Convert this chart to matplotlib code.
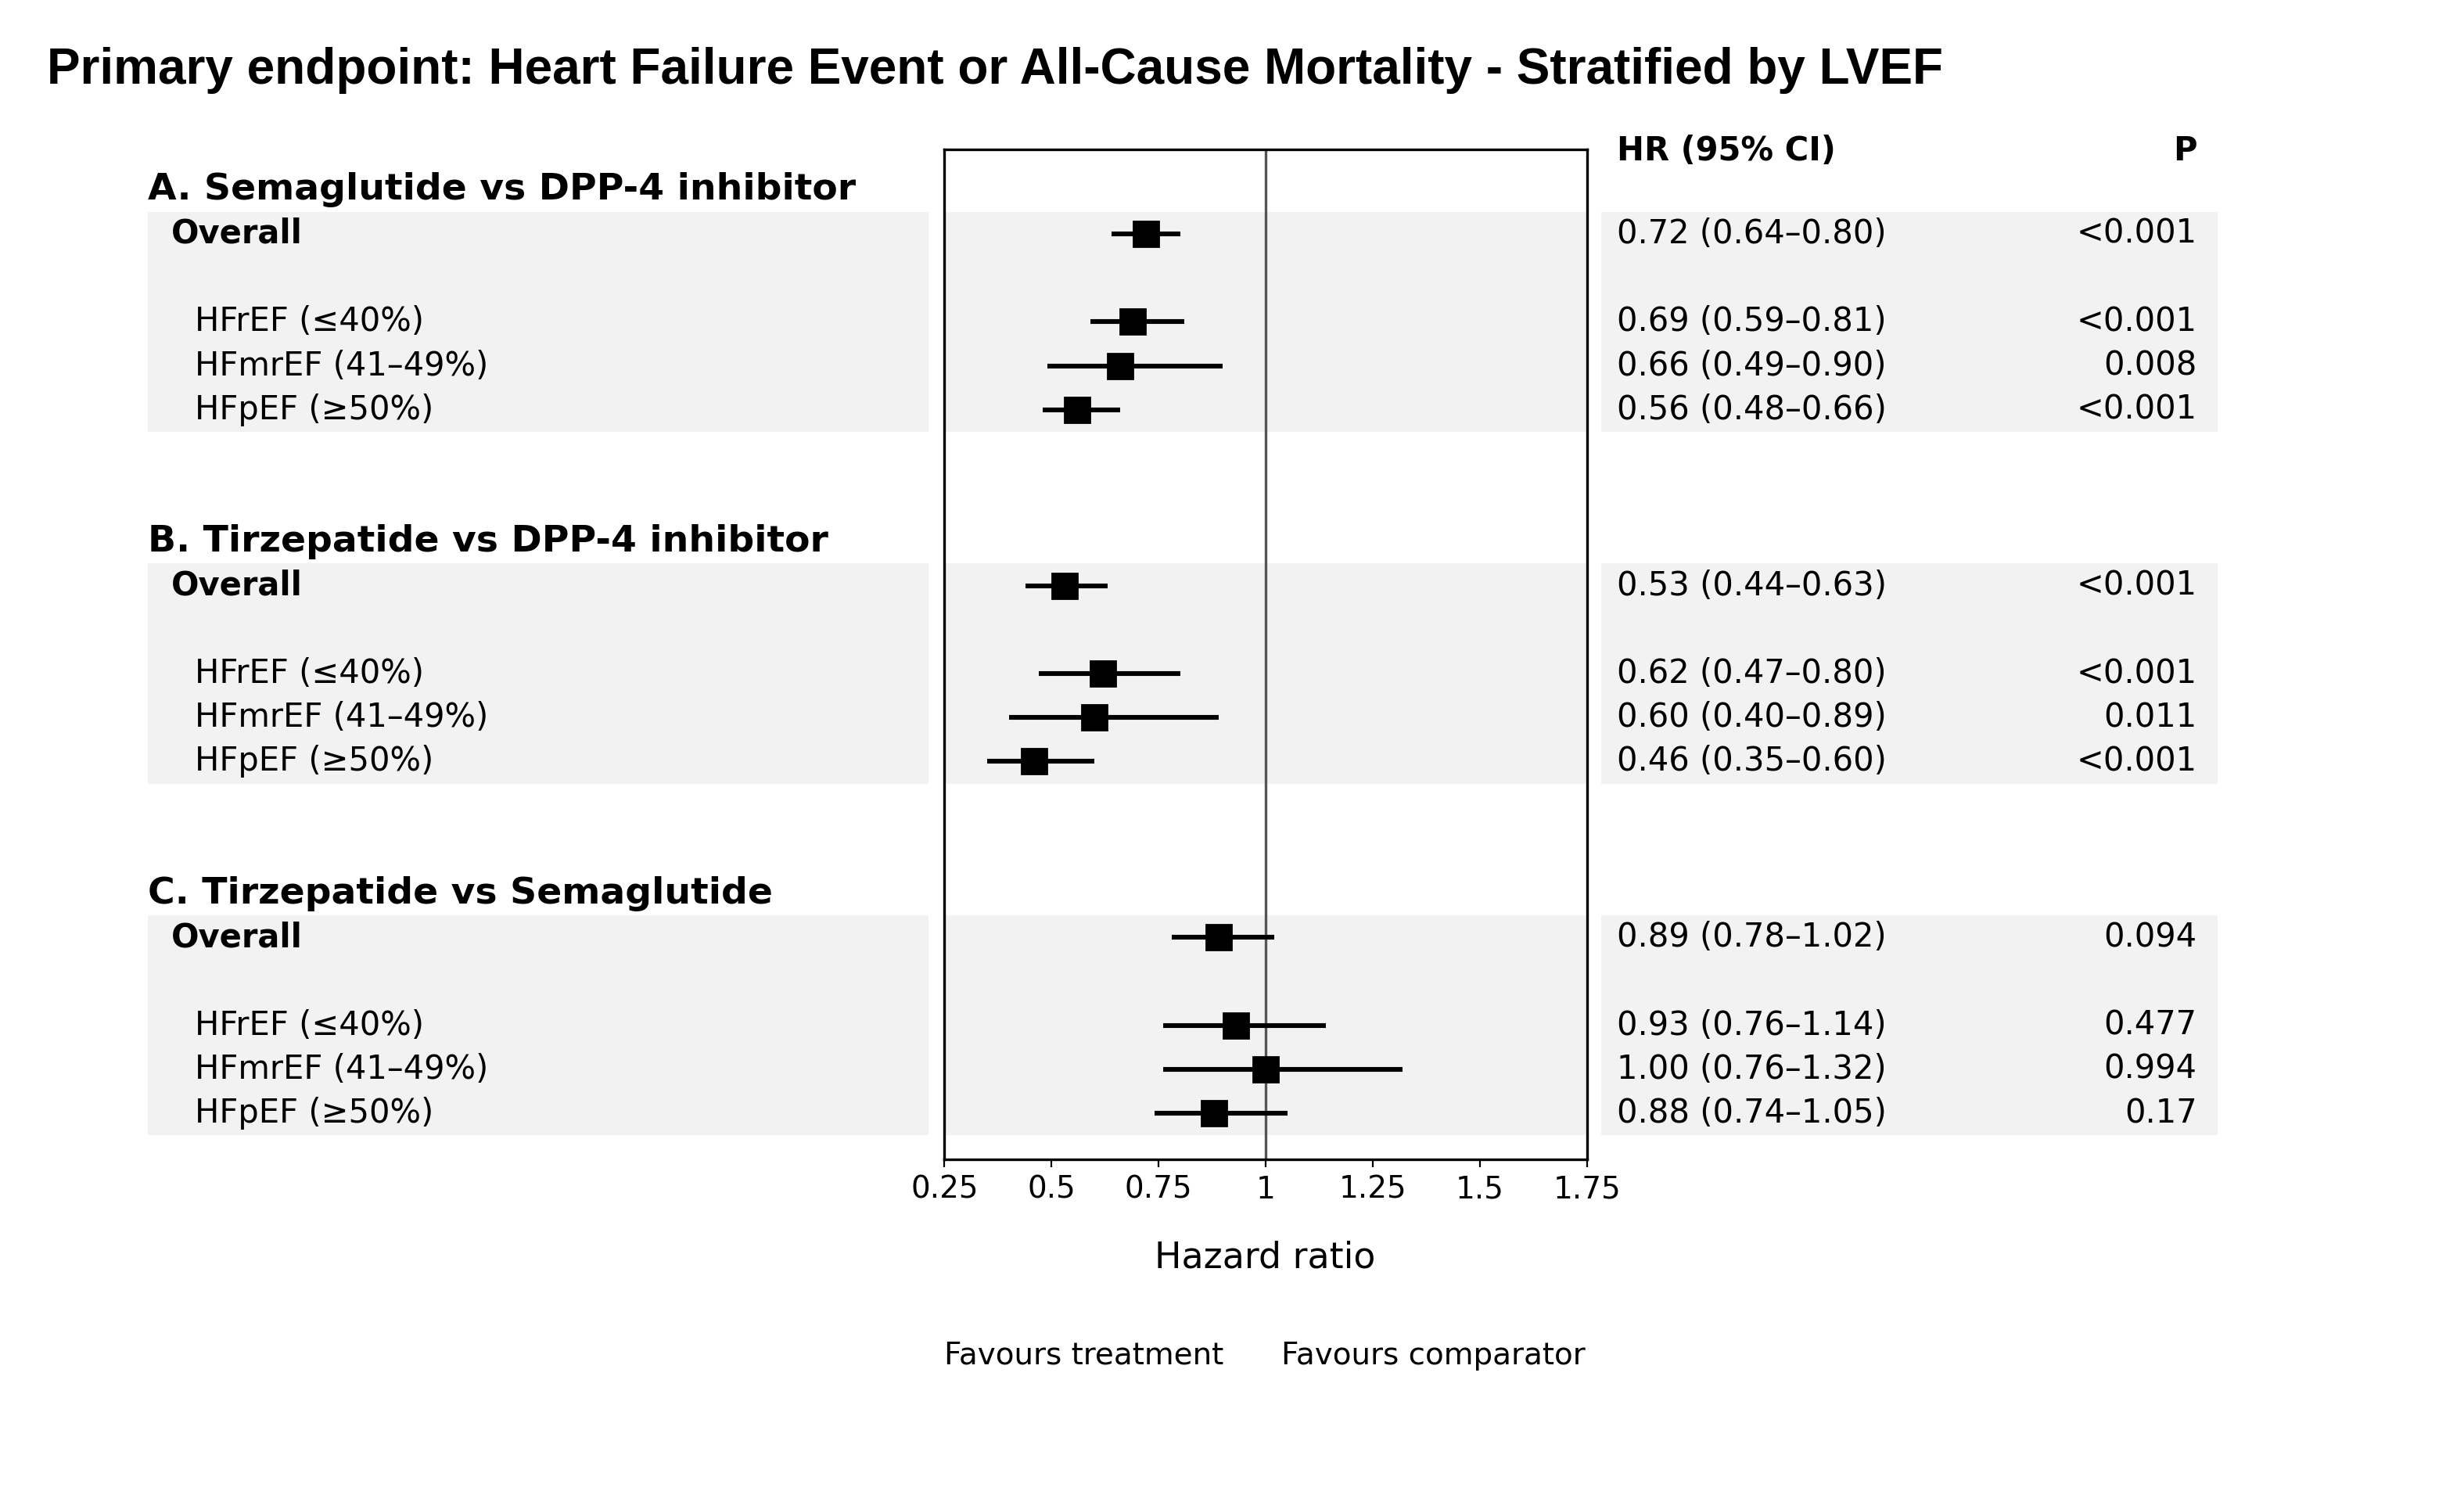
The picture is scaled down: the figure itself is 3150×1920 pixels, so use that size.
import matplotlib
matplotlib.use("Agg")
import matplotlib.pyplot as plt
from matplotlib.patches import Rectangle

title = "Primary endpoint: Heart Failure Event or All-Cause Mortality - Stratified by LVEF"
groups = ["A. Semaglutide vs DPP-4 inhibitor", "B. Tirzepatide vs DPP-4 inhibitor", "C. Tirzepatide vs Semaglutide"]
subgroups = ["Overall", "HFrEF (≤40%)", "HFmrEF (41–49%)", "HFpEF (≥50%)"]
hr = [[0.72, 0.69, 0.66, 0.56], [0.53, 0.62, 0.60, 0.46], [0.89, 0.93, 1.00, 0.88]]
lo = [[0.64, 0.59, 0.49, 0.48], [0.44, 0.47, 0.40, 0.35], [0.78, 0.76, 0.76, 0.74]]
hi = [[0.80, 0.81, 0.90, 0.66], [0.63, 0.80, 0.89, 0.60], [1.02, 1.14, 1.32, 1.05]]
pvals = [["<0.001", "<0.001", "0.008", "<0.001"], ["<0.001", "<0.001", "0.011", "<0.001"],
         ["0.094", "0.477", "0.994", "0.17"]]
xticks = [0.25, 0.5, 0.75, 1, 1.25, 1.5, 1.75]
xticklabels = ["0.25", "0.5", "0.75", "1", "1.25", "1.5", "1.75"]

W, H = 1568, 965
fig = plt.figure(figsize=(15.75, 9.6), dpi=200)
bg = fig.add_axes([0, 0, 1, 1])
bg.set_xlim(0, W); bg.set_ylim(H, 0); bg.axis("off")

ax_l, ax_r, ax_t, ax_b = 601, 1010, 96, 745
ax = fig.add_axes([ax_l / W, 1 - ax_b / H, (ax_r - ax_l) / W, (ax_b - ax_t) / H])
ax.patch.set_alpha(0)

row_h = 28.25
def ypix(r):
    return 122 + r * row_h

offsets = [0, 8, 16]
sub_rows = [1, 3, 4, 5]
fs = 15
for g in range(3):
    base = offsets[g]
    top = ypix(base + 0.5); bot = ypix(base + 5.5)
    for x0, x1 in [(94, 591), (601, 1010), (1019, 1411)]:
        bg.add_patch(Rectangle((x0, top), x1 - x0, bot - top, color="#f2f2f2", lw=0, zorder=0))
    bg.text(94, ypix(base), groups[g], fontsize=17, fontweight="bold", va="center", ha="left")
    for i, s in enumerate(subgroups):
        y = ypix(base + sub_rows[i])
        if i == 0:
            bg.text(109, y, s, fontsize=fs, fontweight="bold", va="center")
        else:
            bg.text(124, y, s, fontsize=fs, va="center")
        bg.text(1029, y, f"{hr[g][i]:.2f} ({lo[g][i]:.2f}–{hi[g][i]:.2f})", fontsize=fs, va="center")
        bg.text(1398, y, pvals[g][i], fontsize=fs, va="center", ha="right")
        ax.plot([lo[g][i], hi[g][i]], [y, y], color="black", lw=2.2, solid_capstyle="butt")
        ax.plot(hr[g][i], y, marker="s", color="black", ms=11.5)

bg.text(1029, 97, "HR (95% CI)", fontsize=fs, fontweight="bold", va="center")
bg.text(1398, 97, "P", fontsize=fs, fontweight="bold", va="center", ha="right")
bg.text(30, 45, title, fontsize=23, fontweight="bold", family="Liberation Sans", va="center")
bg.text(805, 808, "Hazard ratio", fontsize=16.5, ha="center", va="center")
bg.text(601, 871, "Favours treatment", fontsize=14, ha="left", va="center")
bg.text(1009, 871, "Favours comparator", fontsize=14, ha="right", va="center")

ax.axvline(1, color="#555555", lw=1.2, zorder=0)
ax.set_xlim(0.25, 1.75)
ax.set_ylim(ax_b, ax_t)
ax.set_yticks([])
ax.set_xticks(xticks)
ax.set_xticklabels(xticklabels, fontsize=14)
for sp in ax.spines.values():
    sp.set_linewidth(1.2)

fig.savefig("out.png", dpi=200)
